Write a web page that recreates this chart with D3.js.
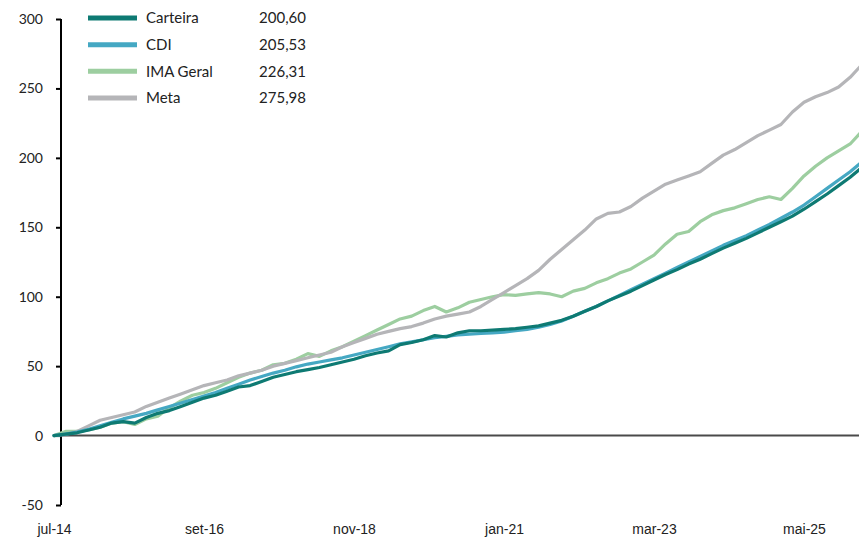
<!DOCTYPE html>
<html><head><meta charset="utf-8">
<script src="https://cdn.jsdelivr.net/npm/d3@7"></script>
<style>
html,body{margin:0;padding:0;background:#fff;}
svg{display:block;font-family:Lato,"Open Sans",sans-serif;}
</style></head>
<body><svg id="chart" width="859" height="538"></svg>
<script>
// month index step (months since jul-14)
const step = 2;
const tickIdx = [0, 26, 52, 78, 104, 130];
const tickLabels = ["jul-14", "set-16", "nov-18", "jan-21", "mar-23", "mai-25"];
const yTicks = [-50, 0, 50, 100, 150, 200, 250, 300];

const seriesNames = ["Carteira", "CDI", "IMA Geral", "Meta"];
const legendValues = ["200,60", "205,53", "226,31", "275,98"];
const colors = ["#0e7a73", "#45a8c3", "#9dcea0", "#b5b5b8"];

const carteira = [0,1,2,4,6,9,10,9,13,16,18,21,24,27,29,32,35,36,39,42,44,46,47.5,49,51,53,55,57.5,59.5,61,65.5,67,69,72,71,74,75.5,75.5,76,76.5,77,78,79,81,83,86,89.5,93,97,100.5,104,108,112,116,119.5,123.5,127,131,135,138.5,142,146,150,154,158,163,168.5,174,180,186,193];
const cdi = [0,1,2.5,4.5,7,9.5,12,14,16,18.5,21,23.5,26,28.5,31,34,37,40,42.5,45,47,49.5,51.5,53,54.5,56,58,60,62,64,66,67.5,69,70.5,71.5,72.5,73,73.5,74,74.5,75.5,76.5,78,80,82.5,86,89.5,93,97,101,105,109,113,117,121,125,129,133,137,140.5,144,148,152,156.5,161,166,172,178,184,190,197];
const ima = [0,3,3,4,6,9,10,8,12,14,20,25,29,31,34,38,42,45,47,51,52,55,59,57,61,64,68,72,76,80,84,86,90,93,89,92,96,98,100,101.5,101,102,103,102,100,104,106,110,113,117,120,125,130,138,145,147,154,159,162,164,167,170,172,170,178,187,194,200,205,210,219];
const meta = [0,1,3,7,11,13,15,17,21,24,27,30,33,36,38,40,43,45,47,50,52,54,56,58,60,64,67,70,73,75,77,78.5,81,84,86,87.5,89,93,98,103,108,113,119,127,134,141,148,156,160,161,165,171,176,181,184,187,190,196,202,206,211,216,220,224,233,240,244,247,251,258,267];

const svg = d3.select("#chart");
const x = d3.scaleLinear().domain([0, 130]).range([54, 804]);
const y = d3.scaleLinear().domain([-50, 300]).range([505, 19]);

svg.append("defs").append("clipPath").attr("id","clip")
  .append("rect").attr("x",0).attr("y",0).attr("width",859).attr("height",538);

// y axis
const yAxis = d3.axisLeft(y).tickValues(yTicks).tickSize(5).tickPadding(13).tickFormat(d=>String(d));
const gy = svg.append("g").attr("transform","translate(61,0)").call(yAxis);
gy.select(".domain").attr("stroke","#000").attr("stroke-width",2).attr("d","M0,"+y(300)+"V"+y(-50));
gy.selectAll(".tick line").attr("stroke","#000").attr("stroke-width",2).attr("x2",-5);
gy.selectAll(".tick text").attr("font-size",14).attr("fill","#222").attr("font-family","Lato, sans-serif");

// zero line
svg.append("line").attr("x1",61).attr("x2",859).attr("y1",y(0)).attr("y2",y(0))
  .attr("stroke","#4a4a4a").attr("stroke-width",2);

// x axis labels (no line)
const xAxis = d3.axisBottom(x).tickValues(tickIdx).tickSize(0).tickPadding(0)
  .tickFormat((d,i)=>tickLabels[i]);
const gx = svg.append("g").attr("transform","translate(0,524)").call(xAxis);
gx.select(".domain").remove();
gx.selectAll(".tick text").attr("font-size",14).attr("fill","#222").attr("dy","0.7em");

// lines
const data = [carteira, cdi, ima, meta];
const line = d3.line().x((d,i)=>x(i*step)).y(d=>y(d)).curve(d3.curveLinear);
const drawOrder = [2, 3, 1, 0];
const gl = svg.append("g").attr("clip-path","url(#clip)");
drawOrder.forEach(k=>{
  gl.append("path").datum(data[k]).attr("d",line)
    .attr("fill","none").attr("stroke",colors[k]).attr("stroke-width",3.2)
    .attr("stroke-linejoin","round").attr("stroke-linecap","round");
});

// legend
const leg = svg.append("g");
const legY = d3.scalePoint().domain(seriesNames).range([18, 98]);
seriesNames.forEach((n,k)=>{
  const yy = legY(n);
  leg.append("line").attr("x1",88).attr("x2",137).attr("y1",yy).attr("y2",yy)
    .attr("stroke",colors[k]).attr("stroke-width",5);
  leg.append("text").attr("x",146).attr("y",yy).attr("dy","0.35em")
    .attr("font-size",15).attr("fill","#222").text(n);
  leg.append("text").attr("x",306).attr("y",yy).attr("dy","0.35em").attr("text-anchor","end")
    .attr("font-size",15).attr("fill","#222").text(legendValues[k]);
});
</script></body></html>
